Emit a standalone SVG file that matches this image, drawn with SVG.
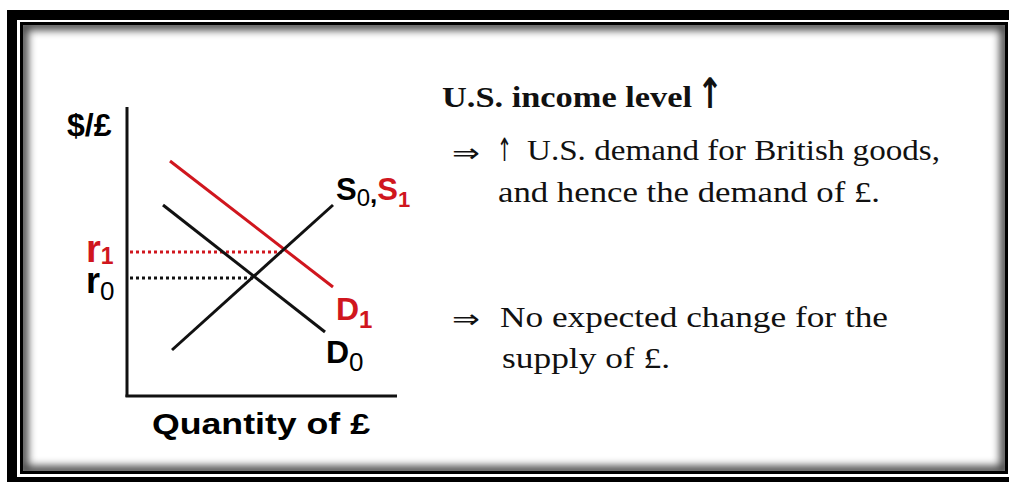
<svg xmlns="http://www.w3.org/2000/svg" width="1009" height="482" viewBox="0 0 1009 482">
<style>
.sans{font-family:"Liberation Sans",Arial,sans-serif;font-weight:bold;}
.reg{font-weight:normal;}
.serif{font-family:"Liberation Serif","Times New Roman",serif;fill:#111;}
.arr{font-family:"DejaVu Sans",sans-serif;fill:#111;}
.red{fill:#d0161e;}
.ln{stroke:#111;stroke-width:3;fill:none;}
.lnr{stroke:#d0161e;stroke-width:3;fill:none;}
</style>
<defs>
<clipPath id="inner"><rect x="23" y="25" width="982" height="446"/></clipPath>
<filter id="blur" x="-5%" y="-5%" width="110%" height="110%"><feGaussianBlur stdDeviation="4"/></filter>
</defs>
<rect width="1009" height="482" fill="#fff"/>
<g id="frame">
<rect x="12" y="15" width="1010" height="467" fill="none" stroke="#000" stroke-width="10"/>
<rect x="21.5" y="23.5" width="985" height="449" fill="none" stroke="#000" stroke-width="3"/>
<g clip-path="url(#inner)"><rect x="23" y="25" width="982" height="446" fill="none" stroke="#000" stroke-width="10" opacity="0.75" filter="url(#blur)"/></g>
</g>
<g id="axes">
<line class="ln" x1="127" y1="107" x2="127" y2="397" stroke-width="3.5"/>
<line class="ln" x1="125.5" y1="396" x2="397" y2="396"/>
</g>
<g id="connectors">
<line class="lnr" x1="130" y1="252" x2="282" y2="252" stroke-dasharray="3 3"/>
<line class="ln" x1="130" y1="278" x2="253" y2="278" stroke-dasharray="3 3"/>
<line class="lnr" x1="170" y1="161" x2="333" y2="287"/>
<line class="ln" x1="163" y1="205" x2="325" y2="332"/>
<line class="ln" x1="172" y1="350" x2="333" y2="205"/>
</g>
<g id="labels">
<text class="sans" x="67" y="136" font-size="32">$/£</text>
<text class="sans" x="336" y="200" font-size="31">S<tspan class="reg" font-size="24" dy="6">0</tspan><tspan font-size="26" dy="-3">,</tspan><tspan class="red" dy="-3">S</tspan><tspan class="red" font-size="22" dy="7">1</tspan></text>
<text class="sans red" x="86" y="262" font-size="38">r<tspan font-size="23" dy="2">1</tspan></text>
<text class="sans" x="86" y="293" font-size="36">r<tspan class="reg" font-size="26" dy="7">0</tspan></text>
<text class="sans red" x="336" y="320" font-size="32">D<tspan font-size="24" dy="8">1</tspan></text>
<text class="sans" x="326" y="363" font-size="32">D<tspan class="reg" font-size="26" dy="8">0</tspan></text>
<text class="sans" x="152" y="434" font-size="30" textLength="218" lengthAdjust="spacingAndGlyphs">Quantity of £</text>
</g>
<g id="text">
<text class="serif" x="442" y="107" font-size="30" font-weight="bold" textLength="250" lengthAdjust="spacingAndGlyphs">U.S. income level</text>
<text class="arr" x="697" y="108" font-size="42" font-weight="bold" textLength="26" lengthAdjust="spacingAndGlyphs">↑</text>
<text class="arr" x="452" y="162" font-size="26" textLength="28" lengthAdjust="spacingAndGlyphs">⇒</text>
<text class="arr" x="497" y="161" font-size="32" textLength="15" lengthAdjust="spacingAndGlyphs">↑</text>
<text class="serif" x="527" y="160" font-size="30" textLength="413" lengthAdjust="spacingAndGlyphs">U.S. demand for British goods,</text>
<text class="serif" x="498" y="202" font-size="30" textLength="382" lengthAdjust="spacingAndGlyphs">and hence the demand of £.</text>
<text class="arr" x="452" y="328" font-size="26" textLength="28" lengthAdjust="spacingAndGlyphs">⇒</text>
<text class="serif" x="500" y="327" font-size="30" textLength="388" lengthAdjust="spacingAndGlyphs">No expected change for the</text>
<text class="serif" x="502" y="368" font-size="30" textLength="168" lengthAdjust="spacingAndGlyphs">supply of £.</text>
</g>
</svg>
